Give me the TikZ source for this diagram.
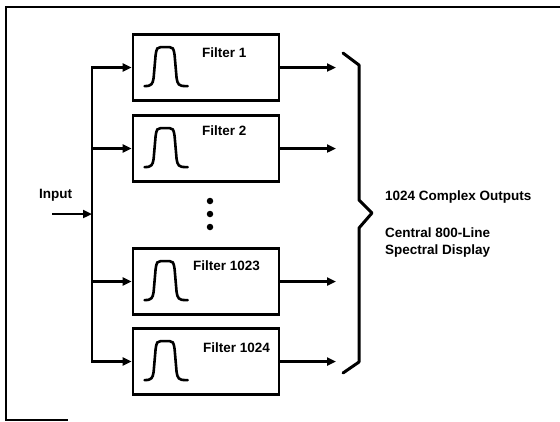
\documentclass[tikz,border=0pt]{standalone}
\usepackage{fontspec}
\setmainfont{Liberation Sans}
\usetikzlibrary{arrows.meta}

\tikzset{
  filterbox/.style={draw, line width=2.8pt, minimum width=146pt, minimum height=66pt, inner sep=0pt},
  sig/.style={line width=2.5pt, -{Triangle[length=9pt,width=8pt]}},
  bus/.style={line width=2.6pt, line cap=rect},
  curve/.style={line width=2.6pt, line cap=round},
  brace/.style={line width=3pt, line join=round, line cap=round},
  lbl/.style={font=\fontsize{13.5}{17}\selectfont\bfseries, inner sep=0pt},
  dot/.style={circle, fill, inner sep=0pt, minimum size=6.5pt},
}

% passband sketch inside a filter box
\newcommand\passband[1]{%
  \begin{scope}[shift={(#1.north west)}]
    \draw[curve] (13,53) .. controls (20,53) and (21,51) .. (22,45) -- (24,22)
      .. controls (25,15) and (26,14) .. (29,14) -- (38,14)
      .. controls (41,14) and (42,15) .. (43,22) -- (45,45)
      .. controls (46,51) and (47,53) .. (54,53) -- (56,53);
  \end{scope}}

\begin{document}
\begin{tikzpicture}[x=1pt, y=-1pt]
  \useasboundingbox (0,0) rectangle (560,421);
  % frame
  \draw[line width=1.6pt] (560,7) -- (6,7) -- (6,420) -- (68,420);

  % filter bank
  \node[filterbox] (f1) at (206,67.5) {};
  \node[filterbox] (f2) at (206,148.5) {};
  \node[filterbox] (f3) at (206,281.5) {};
  \node[filterbox] (f4) at (206,361.5) {};
  \foreach \f in {f1,f2,f3,f4} {\passband{\f}}

  \node[lbl, anchor=base west] (l1) at (202,57) {Filter 1};
  \node[lbl, anchor=base west] (l2) at (202,135) {Filter 2};
  \node[lbl, anchor=base west] (l3) at (193,270) {Filter 1023};
  \node[lbl, anchor=base west] (l4) at (203,352) {Filter 1024};

  \node[dot] (d1) at (210,201) {};
  \node[dot] (d2) at (210,214) {};
  \node[dot] (d3) at (210,227) {};

  % input and bus
  \node[lbl, anchor=base west] (input) at (39,198) {Input};
  \coordinate (in) at (52,214);
  \coordinate (j) at (92,214);
  \coordinate (b1) at (92,67.5);
  \coordinate (b2) at (92,148.5);
  \coordinate (b3) at (92,281.5);
  \coordinate (b4) at (92,361.5);
  \draw[sig] (in) -- (j);
  \draw[bus] (b1) -- (b4);
  \draw[sig] (b1) -- (f1.west);
  \draw[sig] (b2) -- (f2.west);
  \draw[sig] (b3) -- (f3.west);
  \draw[sig] (b4) -- (f4.west);

  % outputs
  \coordinate (o1) at (336,67.5);
  \coordinate (o2) at (336,148.5);
  \coordinate (o3) at (336,281.5);
  \coordinate (o4) at (336,361.5);
  \draw[sig] (f1.east) -- (o1);
  \draw[sig] (f2.east) -- (o2);
  \draw[sig] (f3.east) -- (o3);
  \draw[sig] (f4.east) -- (o4);

  \draw[brace] (343,53) -- (359,65) -- (359,200) -- (372,213) -- (359,228)
    -- (359,362) -- (343,373);

  \node[lbl, anchor=base west] (outs) at (385,200) {1024 Complex Outputs};
  \node[lbl, anchor=north west, align=left] (disp) at (385,228)
    {Central 800-Line\\Spectral Display};
\end{tikzpicture}
\end{document}
